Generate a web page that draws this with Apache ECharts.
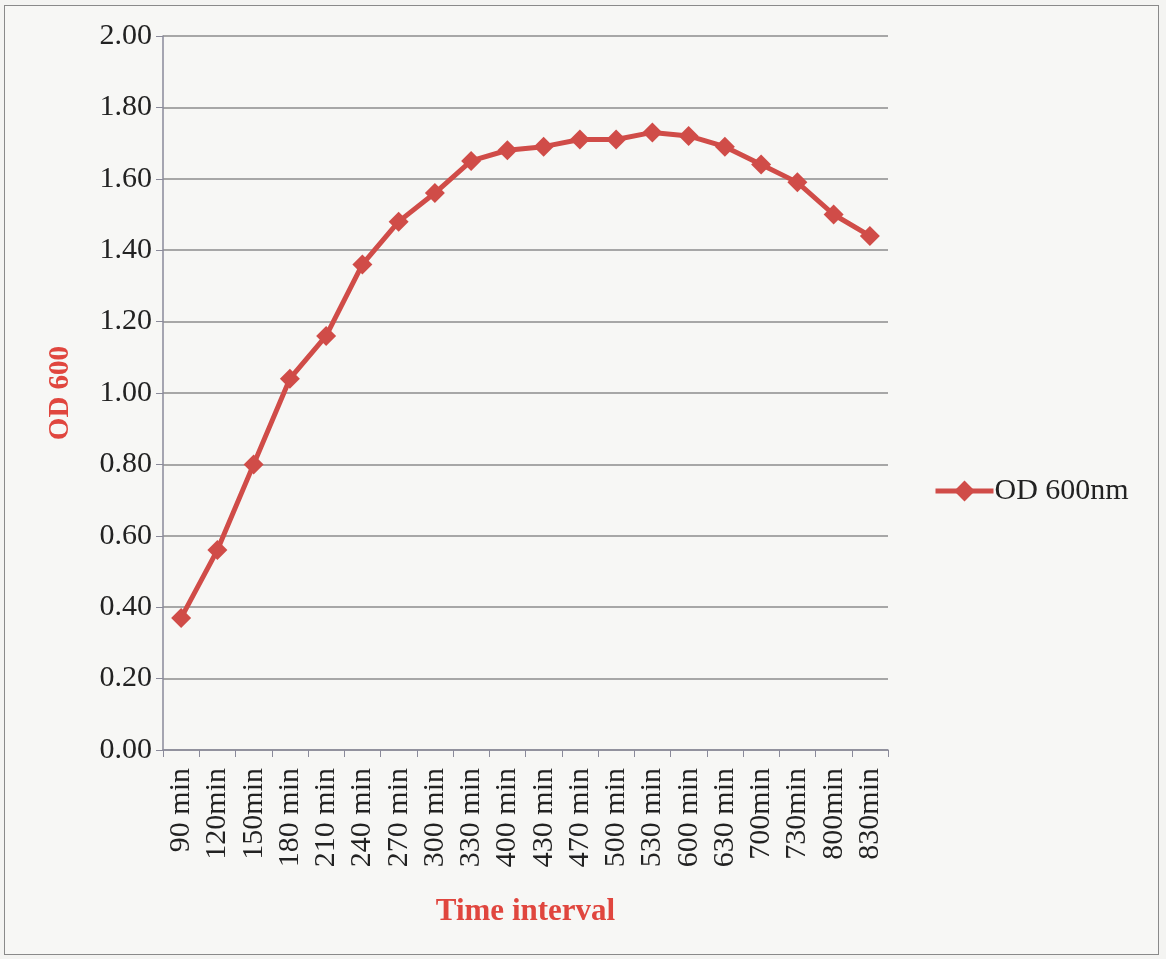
<!DOCTYPE html>
<html>
<head>
<meta charset="utf-8">
<script src="https://cdn.jsdelivr.net/npm/echarts@6/dist/echarts.min.js"></script>
<style>
html,body{margin:0;padding:0;background:#f4f4f2;}
#frame{position:absolute;left:4px;top:5px;width:1153px;height:948px;border:1.5px solid #8a8a8a;background:#f7f7f5;}
#chart{position:absolute;left:0;top:0;width:1166px;height:959px;}
</style>
</head>
<body>
<div id="frame"></div>
<div id="chart"></div>
<script>
const categories = ["90 min","120min","150min","180 min","210 min","240 min","270 min","300 min","330 min","400 min","430 min","470 min","500 min","530 min","600 min","630 min","700min","730min","800min","830min"];
const od600 = [0.37,0.56,0.80,1.04,1.16,1.36,1.48,1.56,1.65,1.68,1.69,1.71,1.71,1.73,1.72,1.69,1.64,1.59,1.50,1.44];
const seriesName = "OD 600nm";
const yTitle = "OD 600";
const xTitle = "Time interval";

const chart = echarts.init(document.getElementById('chart'));
const serif = "'Liberation Serif','DejaVu Serif',serif";
const red = '#d04c48';
chart.setOption({
  backgroundColor: 'transparent',
  animation: false,
  grid: {left: 163, right: 278, top: 36, bottom: 209},
  legend: {
    data: [seriesName], orient: 'vertical', left: 928, top: 471,
    itemWidth: 58, itemHeight: 26, itemGap: 8,
    lineStyle: {width: 5, color: red},
    itemStyle: {color: red},
    textStyle: {fontFamily: serif, fontSize: 30, color: '#222', padding: [0,0,0,-4]}
  },
  xAxis: {
    type: 'category', data: categories, boundaryGap: true,
    name: xTitle, nameLocation: 'middle', nameGap: 146,
    nameTextStyle: {fontFamily: serif, fontSize: 31, fontWeight: 'bold', color: '#e0463e'},
    axisLine: {lineStyle: {color: '#8a8a9a', width: 1.5}},
    axisTick: {show: true, alignWithLabel: false, length: 7, lineStyle: {color: '#8a8a9a'}},
    axisLabel: {rotate: 90, fontFamily: serif, fontSize: 30, color: '#222', margin: 18, interval: 0}
  },
  yAxis: {
    type: 'value', min: 0, max: 2, interval: 0.2,
    name: yTitle, nameLocation: 'middle', nameGap: 88, nameRotate: 90,
    nameTextStyle: {fontFamily: serif, fontSize: 29, fontWeight: 'bold', color: '#e0463e'},
    axisLine: {show: true, lineStyle: {color: '#8a8a9a', width: 1.5}},
    axisTick: {show: true, length: 7, inside: false, lineStyle: {color: '#8a8a9a'}},
    axisLabel: {formatter: v => v.toFixed(2), fontFamily: serif, fontSize: 30, color: '#222', margin: 11},
    splitLine: {lineStyle: {color: '#8c8c8c', width: 1.5}}
  },
  series: [{
    name: seriesName, type: 'line', data: od600,
    symbol: 'diamond', symbolSize: 20,
    lineStyle: {color: red, width: 5},
    itemStyle: {color: red}
  }]
});
</script>
</body>
</html>
